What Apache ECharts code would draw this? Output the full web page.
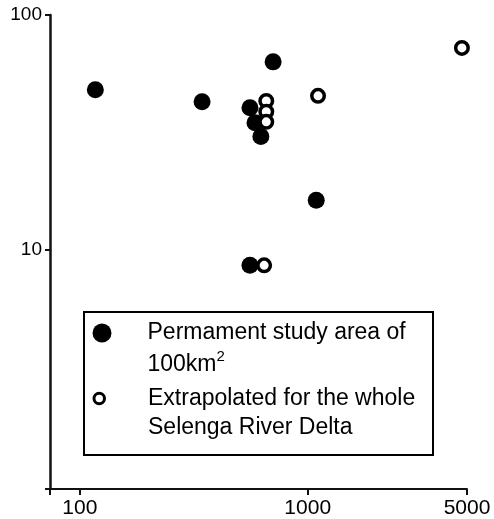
<!DOCTYPE html>
<html>
<head>
<meta charset="utf-8">
<script src="https://cdn.jsdelivr.net/npm/echarts@6/dist/echarts.min.js"></script>
<style>html,body{margin:0;padding:0;background:#fff}#c{width:494px;height:519px}</style>
</head>
<body>
<div id="c"></div>
<script>
// Data
var filledX = [117, 344, 558, 587, 623, 705, 1090, 558];
var filledY = [48.0, 42.6, 40.2, 34.7, 30.3, 63.1, 16.2, 8.55];
var openX = [658, 658, 658, 1110, 644, 4750];
var openY = [43.0, 38.7, 35.0, 45.2, 8.55, 72.4];
var xTickLabels = [100, 1000, 5000];
var yTickLabels = [10, 100];
var seriesNames = ['Permament study area of 100km2', 'Extrapolated for the whole Selenga River Delta'];
var legendTexts = ['Permament study area of\n100km{sup|2}', 'Extrapolated for the whole\nSelenga River Delta'];

var FONT = 'Liberation Sans, Arial, Helvetica, sans-serif';

function pairs(xs, ys) {
  return xs.map(function (x, i) { return [x, ys[i]]; });
}
function plain(v) { return String(v); }

var chart = echarts.init(document.getElementById('c'), null, { renderer: 'canvas' });

function legendText(lh, pad) {
  return {
    fontSize: 23,
    fontFamily: FONT,
    color: '#000',
    lineHeight: lh,
    padding: pad,
    rich: {
      sup: { fontSize: 15, fontFamily: FONT, color: '#000', verticalAlign: 'top', lineHeight: lh }
    }
  };
}

var option = {
  backgroundColor: '#fff',
  animation: false,
  grid: { left: 50, right: 27, top: 15, bottom: 30, containLabel: false },
  xAxis: {
    type: 'log',
    logBase: 10,
    min: 74,
    max: 5000,
    axisLine: { show: true, lineStyle: { color: '#111', width: 2 } },
    axisTick: { show: true, customValues: [74, 100, 1000, 5000], length: 6, lineStyle: { color: '#111', width: 2 } },
    axisLabel: { customValues: xTickLabels, formatter: plain, fontSize: 21, fontFamily: FONT, color: '#000', margin: 9 },
    splitLine: { show: false },
    minorTick: { show: false }
  },
  yAxis: {
    type: 'log',
    logBase: 10,
    min: 0.95,
    max: 100,
    axisLine: { show: true, lineStyle: { color: '#111', width: 2.5 } },
    axisTick: { show: true, customValues: [0.95, 10, 100], length: 5, lineStyle: { color: '#111', width: 2 } },
    axisLabel: { customValues: yTickLabels, formatter: plain, fontSize: 19, fontFamily: FONT, color: '#000', margin: 8 },
    splitLine: { show: false },
    minorTick: { show: false }
  },
  legend: [
    {
      data: [seriesNames[0]],
      left: 92.5,
      top: 285,
      padding: 0,
      itemWidth: 19,
      itemHeight: 19,
      icon: 'circle',
      formatter: function () { return legendTexts[0]; },
      textStyle: legendText(32, [32, 0, 0, 31]),
      selectedMode: false
    },
    {
      data: [seriesNames[1]],
      left: 92.5,
      top: 355,
      padding: 0,
      itemWidth: 10.5,
      itemHeight: 10.5,
      icon: 'circle',
      itemStyle: { borderWidth: 3 },
      formatter: function () { return legendTexts[1]; },
      textStyle: legendText(29, [29, 0, 0, 38.5]),
      selectedMode: false
    }
  ],
  graphic: [
    {
      type: 'rect',
      shape: { x: 84, y: 312, width: 349, height: 143 },
      style: { fill: 'transparent', stroke: '#000', lineWidth: 2 },
      silent: true,
      z: 10
    }
  ],
  series: [
    {
      name: seriesNames[0],
      type: 'scatter',
      data: pairs(filledX, filledY),
      symbol: 'circle',
      symbolSize: 17,
      itemStyle: { color: '#000', opacity: 1 },
      z: 2
    },
    {
      name: seriesNames[1],
      type: 'scatter',
      data: pairs(openX, openY),
      symbol: 'circle',
      symbolSize: 12.5,
      itemStyle: { color: '#fff', borderColor: '#000', borderWidth: 3.5, opacity: 1 },
      z: 3
    }
  ]
};

chart.setOption(option);
</script>
</body>
</html>
